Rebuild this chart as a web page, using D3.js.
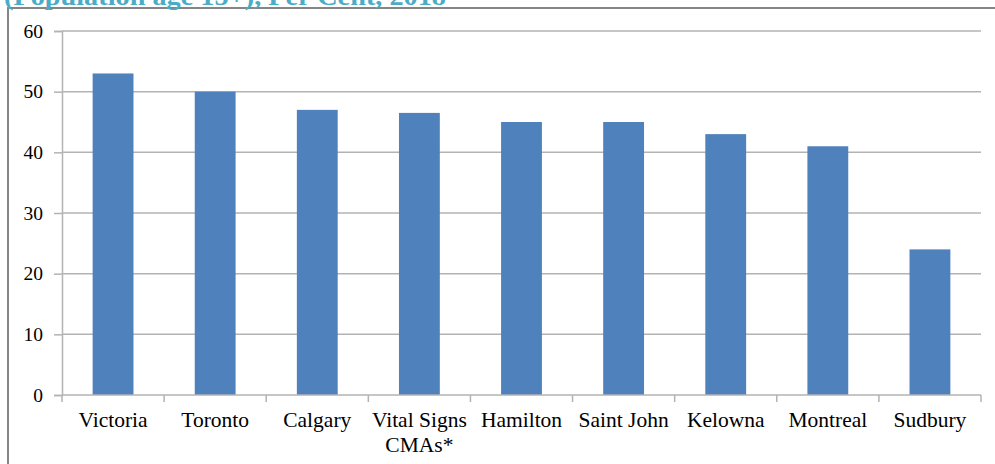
<!DOCTYPE html>
<html>
<head>
<meta charset="utf-8">
<script src="https://cdn.jsdelivr.net/npm/d3@7"></script>
<style>
  html, body { margin: 0; padding: 0; background: #fff; }
  svg { display: block; }
</style>
</head>
<body>
<svg id="chart" width="995" height="464"></svg>
<script>
const titleText = "(Population age 15+), Per Cent, 2018";
const categories = ["Victoria", "Toronto", "Calgary", "Vital Signs\nCMAs*", "Hamilton", "Saint John", "Kelowna", "Montreal", "Sudbury"];
const values = [53, 50, 47, 46.5, 45, 45, 43, 41, 24];
const yTicks = [0, 10, 20, 30, 40, 50, 60];

const svg = d3.select("#chart");
const plot = { left: 62, right: 981, top: 31, bottom: 395 };

// outer chart border (extends beyond image at right/bottom)
svg.append("rect")
  .attr("x", 8).attr("y", 8)
  .attr("width", 1000).attr("height", 500)
  .attr("fill", "#fff")
  .attr("stroke", "#858585")
  .attr("stroke-width", 2);

// title (partially cut at top, as in the reference)
svg.append("text")
  .attr("x", 4).attr("y", 5)
  .attr("font-family", "'Liberation Serif', 'DejaVu Serif', serif")
  .attr("font-weight", "bold")
  .attr("font-size", 25)
  .attr("fill", "#4bacc6")
  .attr("textLength", 442)
  .attr("lengthAdjust", "spacingAndGlyphs")
  .text(titleText);

const x = d3.scaleBand()
  .domain(categories)
  .range([plot.left, plot.right])
  .paddingInner(0.6)
  .paddingOuter(0.3);

const xb = d3.scaleBand()
  .domain(categories)
  .range([plot.left, plot.right]);

const y = d3.scaleLinear()
  .domain([0, 60])
  .range([plot.bottom, plot.top]);

const gridColor = "#b3b3b3";

// gridlines
svg.append("g")
  .selectAll("line")
  .data(yTicks.filter(d => d > 0))
  .join("line")
  .attr("x1", plot.left).attr("x2", plot.right)
  .attr("y1", d => y(d)).attr("y2", d => y(d))
  .attr("stroke", gridColor)
  .attr("stroke-width", 1.5);

// y axis
const yAxis = d3.axisLeft(y).tickValues(yTicks).tickSize(8).tickPadding(11);
const gy = svg.append("g")
  .attr("transform", `translate(${plot.left},0)`)
  .call(yAxis);
gy.select(".domain").attr("stroke", gridColor).attr("stroke-width", 1.5);
gy.selectAll(".tick line").attr("stroke", gridColor).attr("stroke-width", 1.5);
gy.selectAll(".tick text")
  .attr("font-family", "'Liberation Serif', 'Times New Roman', serif")
  .attr("font-size", 19.5)
  .attr("fill", "#000");

// bars
svg.append("g")
  .selectAll("rect")
  .data(values)
  .join("rect")
  .attr("x", (d, i) => x(categories[i]))
  .attr("width", x.bandwidth())
  .attr("y", d => y(d))
  .attr("height", d => y(0) - y(d))
  .attr("fill", "#4f81bd");

// x axis baseline
svg.append("line")
  .attr("x1", plot.left).attr("x2", plot.right)
  .attr("y1", y(0)).attr("y2", y(0))
  .attr("stroke", gridColor)
  .attr("stroke-width", 1.5);

// x ticks at band boundaries
const boundaries = categories.map(c => xb(c)).concat([plot.right]);
svg.append("g")
  .selectAll("line")
  .data(boundaries)
  .join("line")
  .attr("x1", d => d).attr("x2", d => d)
  .attr("y1", y(0)).attr("y2", y(0) + 7)
  .attr("stroke", gridColor)
  .attr("stroke-width", 1.5);

// x labels
const lbl = svg.append("g")
  .selectAll("text")
  .data(categories)
  .join("text")
  .attr("x", d => xb(d) + xb.bandwidth() / 2)
  .attr("y", 427)
  .attr("text-anchor", "middle")
  .attr("font-family", "'Liberation Serif', 'Times New Roman', serif")
  .attr("font-size", 21.5)
  .attr("fill", "#000");
lbl.each(function(d) {
  const lines = d.split("\n");
  const t = d3.select(this);
  lines.forEach((l, i) => {
    t.append("tspan")
      .attr("x", xb(d) + xb.bandwidth() / 2)
      .attr("dy", i === 0 ? 0 : 24.5)
      .text(l);
  });
});
</script>
</body>
</html>
